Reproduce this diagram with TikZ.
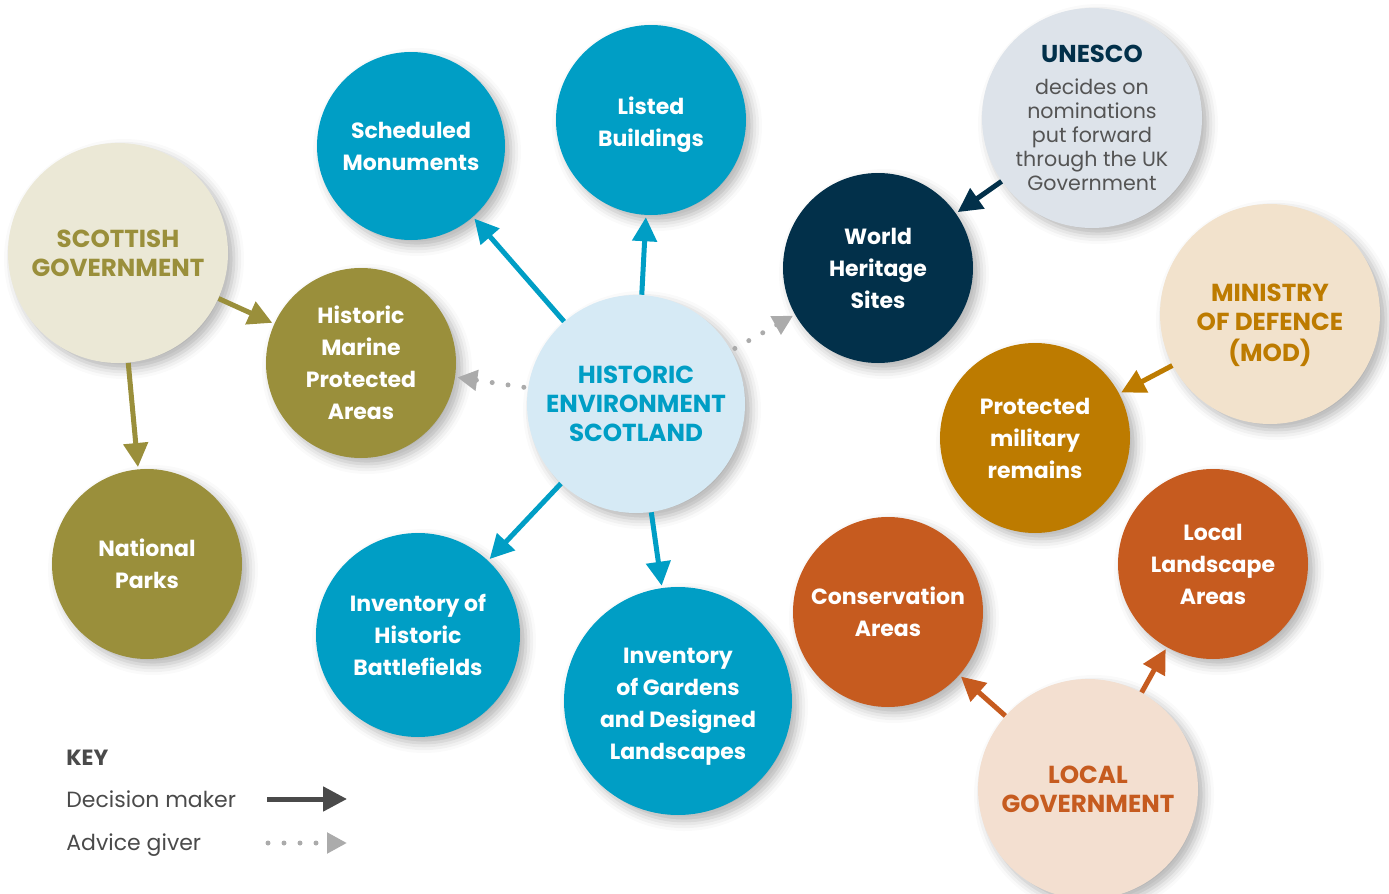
\documentclass[tikz,border=0pt]{standalone}
\usepackage{fontspec}
\setmainfont{Poppins}
\usetikzlibrary{arrows.meta,shadows.blur}

\definecolor{hesblue}{HTML}{009EC5}
\definecolor{hespale}{HTML}{D6EAF5}
\definecolor{olive}{HTML}{9A8F3B}
\definecolor{olivepale}{HTML}{EBE8D6}
\definecolor{navy}{HTML}{02304A}
\definecolor{unescopale}{HTML}{DDE3EA}
\definecolor{ochre}{HTML}{BD7B00}
\definecolor{ochrepale}{HTML}{F2E2CC}
\definecolor{rust}{HTML}{C65B1F}
\definecolor{rustpale}{HTML}{F3DFD0}
\definecolor{keygrey}{HTML}{4A4A4A}
\definecolor{dotgrey}{HTML}{ABABAB}
\newcommand*{\sinktext}[2]{\raisebox{-#1}[\height][\depth]{\begin{tabular}{@{}c@{}}#2\end{tabular}}}

\begin{document}
\begin{tikzpicture}[x=0.5pt, y=-0.5pt,
    bubble/.style={circle, inner sep=0pt, align=center, text=white,
      font=\bfseries\fontsize{11}{16}\selectfont,
      blur shadow={shadow xshift=3pt, shadow yshift=-3pt,
        shadow blur radius=5pt, shadow opacity=30}},
    body/.style={bubble, font=\bfseries\fontsize{12.3}{14.5}\selectfont},
    keytext/.style={anchor=base west, inner sep=0pt, text=keygrey, font=\fontsize{11}{13}\selectfont},
    decide/.style={line width=2.5pt, -{Triangle[length=12pt, width=12pt]}, shorten >=1pt},
    advise/.style={dotgrey, line width=2.5pt, line cap=round, dash pattern=on 0pt off 8pt,
      -{Triangle[length=10pt, width=10pt]}, shorten >=1pt, shorten <=2pt}]

\useasboundingbox (0,0) rectangle (1389,894);

% Blue circles
\node[bubble, fill=hesblue, minimum size=94pt]  (sched)  at (411,146) {Scheduled\\Monuments};
\node[bubble, fill=hesblue, minimum size=95pt]  (listed) at (651,120) {\sinktext{2pt}{Listed\\Buildings}};
\node[bubble, fill=hesblue, minimum size=102pt] (ihb)    at (418,635) {Inventory of\\Historic\\Battlefields};
\node[bubble, fill=hesblue, minimum size=114pt] (igdl)   at (678,701) {\sinktext{2pt}{Inventory\\of Gardens\\and Designed\\Landscapes}};

% Centre
\node[body, fill=hespale, text=hesblue, minimum size=109pt] (hes) at (636,404) {HISTORIC\\ENVIRONMENT\\SCOTLAND};

% World heritage
\node[bubble, fill=unescopale, text=black!67, minimum size=110pt, font=\fontsize{10.3}{12}\selectfont] (unesco) at (1092,118)
  {{\bfseries\fontsize{12.2}{14}\selectfont\color{navy}UNESCO}\\[4pt]decides on\\nominations\\put forward\\through the UK\\Government};
\node[bubble, fill=navy, minimum size=95pt] (whs) at (878,268) {World\\Heritage\\Sites};

% Scottish Government
\node[body, fill=olivepale, text=olive, minimum size=110pt] (scotgov) at (118,253) {SCOTTISH\\GOVERNMENT};
\node[bubble, fill=olive, minimum size=95pt] (hmpa) at (361,363) {Historic\\Marine\\Protected\\Areas};
\node[bubble, fill=olive, minimum size=95pt] (natpark) at (147,564) {National\\Parks};

% Ministry of Defence
\node[body, fill=ochrepale, text=ochre, minimum size=110pt] (mod) at (1270,314) {\sinktext{6pt}{MINISTRY\\OF DEFENCE\\(MOD)}};
\node[bubble, fill=ochre, minimum size=95pt] (pmr) at (1035,438) {Protected\\military\\remains};

% Local Government
\node[body, fill=rustpale, text=rust, minimum size=110pt] (localgov) at (1088,789) {LOCAL\\GOVERNMENT};
\node[bubble, fill=rust, minimum size=95pt] (consarea) at (888,612) {Conservation\\Areas};
\node[bubble, fill=rust, minimum size=95pt] (lla) at (1213,564) {Local\\Landscape\\Areas};

% Decision arrows
\draw[decide, hesblue] (hes) -- (sched);
\draw[decide, hesblue] (hes) -- (listed);
\draw[decide, hesblue] (hes) -- (ihb);
\draw[decide, hesblue] (hes) -- (igdl);
\draw[decide, navy] (unesco) -- (whs);
\draw[decide, olive] (scotgov) -- (hmpa);
\draw[decide, olive] (scotgov) -- (natpark);
\draw[decide, ochre] (mod) -- (pmr);
\draw[decide, rust] (localgov) -- (consarea);
\draw[decide, rust] (localgov) -- (lla);

% Advice arrows
\draw[advise] (hes) -- (hmpa);
\draw[advise] (hes) -- (whs);

% Key
\node[keytext, font=\bfseries\fontsize{11}{13}\selectfont] (keytitle) at (66,765) {KEY};
\node[keytext] (keydecide) at (66,807) {Decision maker};
\node[keytext] (keyadvise) at (66,850) {Advice giver};
\coordinate (dmA) at (267,799);
\coordinate (dmB) at (347,799);
\coordinate (agA) at (268,843);
\coordinate (agB) at (347,843);
\draw[decide, keygrey, shorten >=0pt] (dmA) -- (dmB);
\draw[advise, shorten >=0pt, shorten <=0pt] (agA) -- (agB);

\end{tikzpicture}
\end{document}
